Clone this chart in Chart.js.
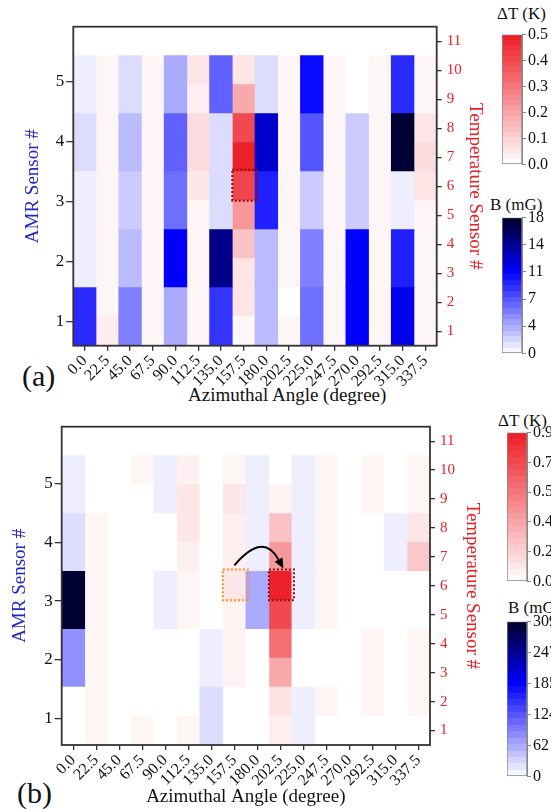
<!DOCTYPE html>
<html><head><meta charset="utf-8">
<script src="https://cdn.jsdelivr.net/npm/chart.js@4.4.0/dist/chart.umd.min.js"></script>
<style>
html,body{margin:0;padding:0;width:551px;height:809px;overflow:hidden;background:#fff;}
canvas{position:absolute;}
.t{position:absolute;font-family:'Liberation Serif','Times New Roman',serif;color:#111;white-space:nowrap;}
</style></head><body>
<div class="t" style="left:22px;top:358px;font-size:30px;line-height:36px">(a)</div>
<div class="t" style="left:17px;top:775px;font-size:30px;line-height:36px">(b)</div>
<div class="t" style="left:188px;top:383px;font-size:19px;line-height:23px">Azimuthal Angle (degree)</div>
<div class="t" style="left:497px;top:4px;font-size:17px;line-height:20px">ΔT (K)</div>
<div class="t" style="left:490px;top:195px;font-size:17px;line-height:20px">B (mG)</div>
<div class="t" style="left:498px;top:411px;font-size:17px;line-height:20px">ΔT (K)</div>
<div class="t" style="left:508px;top:598px;font-size:17px;line-height:20px">B (mG)</div>

<canvas id="chartA" style="left:0;top:0;width:500px;height:410px" width="500" height="410"></canvas>
<canvas id="chartB" style="left:0;top:405px;width:500px;height:404px" width="500" height="404"></canvas>
<canvas id="cbAT" style="left:501px;top:23px;width:81px;height:153px" width="81" height="153"></canvas>
<canvas id="cbAB" style="left:501px;top:206px;width:81px;height:159px" width="81" height="159"></canvas>
<canvas id="cbBT" style="left:506px;top:421px;width:81px;height:172px" width="81" height="172"></canvas>
<canvas id="cbBB" style="left:506px;top:610px;width:81px;height:178px" width="81" height="178"></canvas>
<script>
// ---------- data ----------
const angleLabels = ['0.0','22.5','45.0','67.5','90.0','112.5','135.0','157.5','180.0','202.5','225.0','247.5','270.0','292.5','315.0','337.5'];
const amrAngles  = ['0.0','45.0','90.0','135.0','180.0','225.0','270.0','315.0'];
const tempAngles = ['22.5','67.5','112.5','157.5','202.5','247.5','292.5','337.5'];
const amrSensors  = [1,2,3,4,5];
const tempSensors = [1,2,3,4,5,6,7,8,9,10];

// Panel (a): B (mG), rows = AMR sensor 1..5, columns = amrAngles
const fieldA = [
  [9.0, 5.4, 3.6, 8.6, 2.9, 6.1, 10.8, 11.4],
  [0.7, 2.9, 10.8, 14.8, 2.9, 5.4, 10.8, 9.5],
  [0.7, 2.2, 6.1, 1.5, 9.5, 2.2, 2.2, 0.7],
  [1.5, 2.9, 6.7, 1.5, 12.5, 7.2, 2.2, 17.6],
  [0.7, 1.5, 3.6, 6.7, 1.5, 10.4, 0.0, 9.0]
];
// Panel (a): ΔT (K), rows = temperature sensor 1..10, columns = tempAngles
const deltaTA = [
  [0.04, 0.02, 0.02, 0.015, 0.02, 0.02, 0.02, 0.02],
  [0.02, 0.02, 0.02, 0.06, 0.00, 0.02, 0.02, 0.02],
  [0.02, 0.02, 0.02, 0.06, 0.02, 0.02, 0.02, 0.02],
  [0.02, 0.02, 0.02, 0.13, 0.02, 0.02, 0.02, 0.02],
  [0.02, 0.02, 0.02, 0.23, 0.02, 0.02, 0.02, 0.02],
  [0.02, 0.02, 0.05, 0.41, 0.02, 0.02, 0.02, 0.06],
  [0.02, 0.02, 0.077, 0.49, 0.02, 0.02, 0.02, 0.077],
  [0.02, 0.02, 0.077, 0.40, 0.02, 0.02, 0.02, 0.06],
  [0.02, 0.02, 0.037, 0.19, 0.02, 0.02, 0.02, 0.02],
  [0.02, 0.02, 0.06, 0.06, 0.02, 0.02, 0.02, 0.02]
];
// Panel (b): B (mG)
const fieldB = [
  [0, 0, 0, 25, 0, 12, 0, 0],
  [81, 0, 0, 12, 0, 0, 0, 0],
  [303, 0, 12, 0, 62, 12, 0, 0],
  [25, 0, 0, 0, 12, 12, 0, 12],
  [12, 0, 12, 0, 12, 12, 0, 0]
];
// Panel (b): ΔT (K)
const deltaTB = [
  [0.04, 0.04, 0.04, 0, 0.067, 0, 0, 0],
  [0.04, 0, 0, 0, 0.11, 0.04, 0.04, 0.04],
  [0.04, 0, 0, 0.05, 0.34, 0, 0.04, 0.04],
  [0.04, 0, 0, 0.05, 0.57, 0, 0.04, 0.04],
  [0.04, 0, 0.04, 0.05, 0.72, 0.04, 0, 0],
  [0.04, 0, 0.04, 0.1, 0.88, 0.04, 0, 0],
  [0.04, 0, 0.06, 0.067, 0.41, 0.04, 0, 0.22],
  [0.04, 0, 0.1, 0.067, 0.24, 0.04, 0, 0.1],
  [0, 0, 0.1, 0.1, 0.05, 0.04, 0.04, 0.04],
  [0, 0.04, 0.06, 0.04, 0, 0.04, 0.04, 0.04]
];
const cbTicksAT = [0, 0.1, 0.2, 0.3, 0.4, 0.5];
const cbTicksAB = [0, 3.6, 7.2, 10.8, 14.4, 18];
const cbTicksBT = [0, 0.18, 0.36, 0.54, 0.72, 0.9];
const cbTicksBB = [0, 61.8, 123.6, 185.4, 247.2, 309];

// ---------- styles ----------
const SERIF = "'Liberation Serif', 'Times New Roman', serif";
const RED = '#ee1c25';
const BLUE = '#2424c8';
const INK = '#111';
const FRAME = '#333';

function redMap(t) {
  t = Math.max(0, Math.min(1, t));
  const r = Math.round(255 + (237 - 255) * t), g = Math.round(255 + (28 - 255) * t), b = Math.round(255 + (36 - 255) * t);
  return `rgb(${r},${g},${b})`;
}
function blueMap(t) {
  t = Math.max(0, Math.min(1, t));
  if (t <= 0.6) { const s = t / 0.6; const v = Math.round(255 * (1 - s)); return `rgb(${v},${v},255)`; }
  const s = (t - 0.6) / 0.4;
  return `rgb(0,0,${Math.round(255 - 215 * s)})`;
}

function buildDatasets(field, dT, bMax, tMax) {
  const ds = [];
  amrSensors.forEach((s, r) => {
    ds.push({
      label: 'AMR ' + s,
      data: angleLabels.map(a => amrAngles.includes(a) ? [2 * s - 1.5, 2 * s + 0.5] : null),
      backgroundColor: angleLabels.map(a => { const j = amrAngles.indexOf(a); return j < 0 ? 'rgba(0,0,0,0)' : blueMap(field[r][j] / bMax); }),
      yAxisID: 'yc', grouped: false, barPercentage: 1, categoryPercentage: 1, borderWidth: 0
    });
  });
  tempSensors.forEach((s, r) => {
    ds.push({
      label: 'T ' + s,
      data: angleLabels.map(a => tempAngles.includes(a) ? [s - 0.5, s + 0.5] : null),
      backgroundColor: angleLabels.map(a => { const j = tempAngles.indexOf(a); return j < 0 ? 'rgba(0,0,0,0)' : redMap(dT[r][j] / tMax); }),
      yAxisID: 'yc', grouped: false, barPercentage: 1, categoryPercentage: 1, borderWidth: 0
    });
  });
  return ds;
}

const marksPlugin = {
  id: 'marks',
  afterDatasetsDraw(chart, args, opts) {
    const {ctx, chartArea: ca, scales} = chart;
    const x = scales.x, yc = scales.yc;
    ctx.save();
    ctx.strokeStyle = FRAME; ctx.lineWidth = 1.8;
    ctx.strokeRect(ca.left, ca.top, ca.right - ca.left, ca.bottom - ca.top);
    ctx.restore();
    const colW = x.getPixelForValue(1) - x.getPixelForValue(0);
    (opts.boxes || []).forEach(b => {
      const cx = x.getPixelForValue(angleLabels.indexOf(b.angle));
      const top = yc.getPixelForValue(b.sensor + 0.5), bot = yc.getPixelForValue(b.sensor - 0.5);
      ctx.save();
      ctx.strokeStyle = b.color; ctx.lineWidth = 2; ctx.setLineDash([2, 2]);
      ctx.strokeRect(cx - colW / 2, top - 2, colW + 2, bot - top + 2);
      ctx.restore();
    });
    if (opts.arrow) {
      const a = opts.arrow;
      const x0 = x.getPixelForValue(angleLabels.indexOf(a.from));
      const x1 = x.getPixelForValue(angleLabels.indexOf(a.to)) + 3;
      const yTop = yc.getPixelForValue(a.sensor + 0.5);
      const sy = yTop - 6, ey = yTop - 3;
      const cxp = (x0 + x1) / 2 + 4, cyp = yTop - 40;
      const ang = Math.atan2(ey - cyp, x1 - cxp);
      const L = 10, W = 4.5;
      const bx = x1 - L * Math.cos(ang), by = ey - L * Math.sin(ang);
      ctx.save();
      ctx.strokeStyle = '#000'; ctx.fillStyle = '#000'; ctx.lineWidth = 2;
      ctx.beginPath(); ctx.moveTo(x0, sy); ctx.quadraticCurveTo(cxp, cyp, bx, by); ctx.stroke();
      ctx.beginPath();
      ctx.moveTo(x1, ey);
      ctx.lineTo(bx + W * Math.sin(ang), by - W * Math.cos(ang));
      ctx.lineTo(bx - W * Math.sin(ang), by + W * Math.cos(ang));
      ctx.closePath(); ctx.fill();
      ctx.restore();
    }
  }
};

function mainChart(id, cfg) {
  const el = document.getElementById(id);
  const W = el.width, H = el.height;
  return new Chart(el, {
    type: 'bar',
    data: { labels: angleLabels, datasets: buildDatasets(cfg.field, cfg.dT, cfg.bMax, cfg.tMax) },
    plugins: [marksPlugin],
    options: {
      responsive: false, animation: false, events: [],
      layout: { padding: { top: cfg.top, left: 0, right: 0, bottom: 0 } },
      plugins: { legend: { display: false }, tooltip: { enabled: false }, marks: cfg.marks },
      scales: {
        x: {
          type: 'category', offset: true,
          grid: { display: true, offset: false, drawOnChartArea: false, drawTicks: true, tickLength: 5, color: FRAME, lineWidth: 1.3 },
          border: { display: false },
          ticks: { autoSkip: false, minRotation: 45, maxRotation: 45, padding: 1, color: INK, font: { family: SERIF, size: 16 } },
          title: { display: cfg.xTitle, text: 'Azimuthal Angle (degree)', color: INK, font: { family: SERIF, size: 19 }, padding: { top: 0, bottom: cfg.xTitlePad } },
          afterFit(s) { s.height = H - cfg.bottom; }
        },
        yc: { type: 'linear', display: false, min: 0.5, max: 11.5 },
        yA: {
          type: 'linear', position: 'left', min: cfg.aMin, max: cfg.aMax,
          afterBuildTicks(s) { s.ticks = amrSensors.map(v => ({ value: v })); },
          grid: { display: true, drawOnChartArea: false, drawTicks: true, tickLength: 7, color: FRAME, lineWidth: 1.3 },
          border: { display: false },
          ticks: { padding: 2, color: INK, font: { family: SERIF, size: 17 } },
          title: { display: true, text: 'AMR Sensor #', color: BLUE, font: { family: SERIF, size: 19 }, padding: { top: cfg.leftTitlePad, bottom: 0 } },
          afterFit(s) { s.width = cfg.left; }
        },
        yT: {
          type: 'linear', position: 'right', min: 0.5, max: 11.5,
          afterBuildTicks(s) { s.ticks = [1,2,3,4,5,6,7,8,9,10,11].map(v => ({ value: v })); },
          grid: { display: true, drawOnChartArea: false, drawTicks: true, tickLength: 5, color: FRAME, lineWidth: 1.3 },
          border: { display: false },
          ticks: { padding: 5, color: RED, font: { family: SERIF, size: 15 } },
          title: { display: true, text: 'Temperature Sensor #', color: RED, font: { family: SERIF, size: 19 }, padding: { top: cfg.rightTitlePad, bottom: 0 } },
          afterFit(s) { s.width = W - cfg.right; }
        }
      }
    }
  });
}

mainChart('chartA', {
  field: fieldA, dT: deltaTA, bMax: 18, tMax: 0.5,
  top: 26.7, bottom: 345.7, left: 73.3, right: 436.7,
  aMin: 0.6, aMax: 5.92, xTitle: false, xTitlePad: 3,
  leftTitlePad: 22, rightTitlePad: 13.5,
  marks: { boxes: [{ angle: '157.5', sensor: 6, color: '#8b0a0a' }] }
});
mainChart('chartB', {
  field: fieldB, dT: deltaTB, bMax: 309, tMax: 0.9,
  top: 21.7, bottom: 340, left: 61.7, right: 430,
  aMin: 0.55, aMax: 5.97, xTitle: true, xTitlePad: 0.6,
  leftTitlePad: 8.6, rightTitlePad: 16.5,
  marks: {
    boxes: [{ angle: '157.5', sensor: 6, color: '#ff8c1a' }, { angle: '202.5', sensor: 6, color: '#8b0a0a' }],
    arrow: { from: '157.5', to: '202.5', sensor: 6 }
  }
});

function colorbar(id, max, tickVals, fmt, mapFn) {
  const el = document.getElementById(id);
  const N = 24;
  new Chart(el, {
    type: 'bar',
    data: { labels: [''], datasets: [{
      data: [[0, max]],
      backgroundColor(c) {
        const ca = c.chart.chartArea;
        if (!ca) return '#fff';
        const g = c.chart.ctx.createLinearGradient(0, ca.bottom, 0, ca.top);
        for (let i = 0; i < N; i++) {
          const col = mapFn((i + 0.5) / N);
          g.addColorStop(i / N, col); g.addColorStop((i + 1) / N, col);
        }
        return g;
      },
      borderColor: '#888', borderWidth: 1, borderSkipped: false,
      barPercentage: 1, categoryPercentage: 1
    }] },
    options: {
      responsive: false, animation: false, events: [],
      layout: { padding: { top: 10, bottom: 10, left: 1, right: 0 } },
      plugins: { legend: { display: false }, tooltip: { enabled: false } },
      scales: {
        x: { display: false },
        y: {
          position: 'right', min: 0, max: max,
          afterBuildTicks(s) { s.ticks = tickVals.map(v => ({ value: v })); },
          grid: { display: true, drawOnChartArea: false, tickLength: 4, color: '#888' },
          border: { display: true, color: '#888' },
          ticks: { padding: 2, color: INK, font: { family: SERIF, size: 16 }, callback: v => fmt(v) },
          afterFit(s) { s.width = 60; }
        }
      }
    }
  });
}
colorbar('cbAT', 0.5, cbTicksAT, v => v.toFixed(1), redMap);
colorbar('cbAB', 18, cbTicksAB, v => String(Math.round(v)), blueMap);
colorbar('cbBT', 0.9, cbTicksBT, v => v.toFixed(1), redMap);
colorbar('cbBB', 309, cbTicksBB, v => String(Math.round(v)), blueMap);
</script>
</body></html>
